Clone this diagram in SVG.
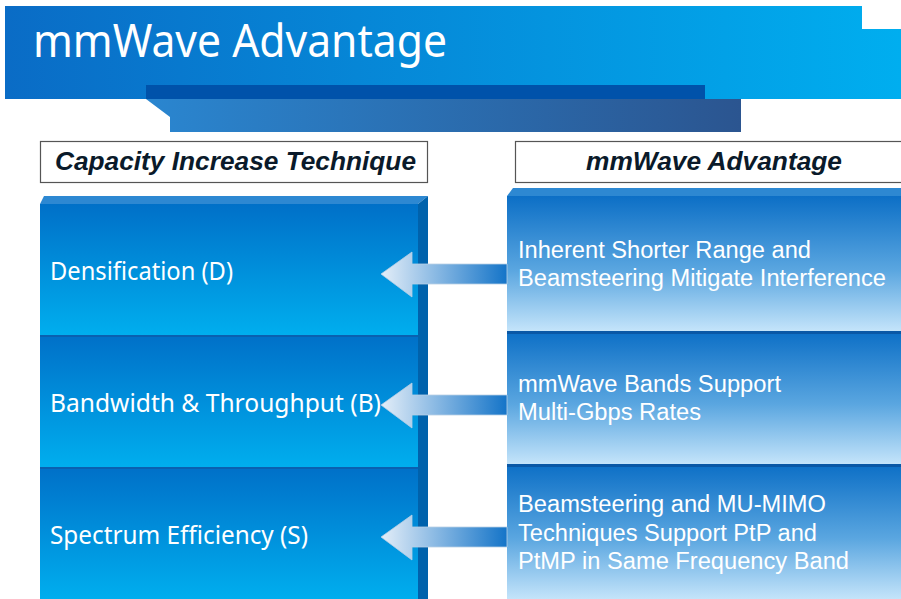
<svg xmlns="http://www.w3.org/2000/svg" width="901" height="599" viewBox="0 0 901 599">
<defs>
<linearGradient id="gTitle" x1="0" y1="0" x2="1" y2="0">
<stop offset="0" stop-color="#0a6cc6"/><stop offset="1" stop-color="#00aeef"/>
</linearGradient>
<linearGradient id="gBar" x1="0" y1="0" x2="1" y2="0">
<stop offset="0" stop-color="#2a86d0"/><stop offset="1" stop-color="#2b5590"/>
</linearGradient>
<linearGradient id="gLeft" x1="0" y1="0" x2="0" y2="1">
<stop offset="0" stop-color="#0070c8"/><stop offset="1" stop-color="#00aeee"/>
</linearGradient>
<linearGradient id="gRight" x1="0" y1="0" x2="0" y2="1">
<stop offset="0" stop-color="#0c6fc6"/><stop offset="0.55" stop-color="#5aa6e0"/><stop offset="1" stop-color="#c4e4fa"/>
</linearGradient>
<linearGradient id="gArrow" x1="0" y1="0" x2="1" y2="0">
<stop offset="0" stop-color="#e4eef8"/><stop offset="1" stop-color="#1474c8"/>
</linearGradient>
<style>
.hdr{fill:#fff;stroke:#555;stroke-width:1.2}
.hdrT{font-family:"Liberation Sans",Arial,sans-serif;font-weight:bold;font-style:italic;font-size:25px;fill:#0a1a2a}
.lt{font-family:"Noto Sans","Open Sans",sans-serif;font-size:25px;fill:#fff}
.rt{font-family:"Liberation Sans",Arial,sans-serif;font-size:23px;fill:#fff}
.side{fill:#0062ac}
.topL{fill:#2d88d2}
.sep{fill:#0a58a6}
</style>
</defs>

<g id="title">
<path d="M5 6 H862 V29 H901 V99 H5 Z" fill="url(#gTitle)"/>
<rect x="146" y="85" width="559" height="14" fill="#0052aa"/>
<path d="M146 99 H741 V132 H170 V117 Z" fill="url(#gBar)"/>
<text x="33" y="57" font-family="Noto Sans,Open Sans,sans-serif" font-size="45" fill="#fff" textLength="414" lengthAdjust="spacingAndGlyphs">mmWave Advantage</text>
</g>

<g id="hdr-left">
<rect class="hdr" x="40.5" y="141.5" width="387" height="41"/>
<text class="hdrT" x="55" y="170" textLength="361" lengthAdjust="spacingAndGlyphs">Capacity Increase Technique</text>
</g>
<g id="hdr-right">
<rect class="hdr" x="515.5" y="141.5" width="390" height="41"/>
<text class="hdrT" x="586" y="170" textLength="256" lengthAdjust="spacingAndGlyphs">mmWave Advantage</text>
</g>

<g id="left-col">
<path class="topL" d="M40 204 L44 196 H428 L418 204 Z"/>
<path class="side" d="M418 204 L428 196 V599 H418 Z"/>
</g>
<g id="node-D">
<rect x="40" y="204" width="378" height="131" fill="url(#gLeft)"/>
<text class="lt" x="50" y="280" textLength="183" lengthAdjust="spacingAndGlyphs">Densification (D)</text>
</g>
<g id="node-B">
<rect x="40" y="335" width="378" height="132" fill="url(#gLeft)"/>
<rect x="40" y="335" width="378" height="2" fill="#0a60b0"/>
<text class="lt" x="50" y="412" textLength="331" lengthAdjust="spacingAndGlyphs">Bandwidth &amp; Throughput (B)</text>
</g>
<g id="node-S">
<rect x="40" y="467" width="378" height="132" fill="url(#gLeft)"/>
<rect x="40" y="467" width="378" height="2" fill="#0a60b0"/>
<text class="lt" x="50" y="544" textLength="258" lengthAdjust="spacingAndGlyphs">Spectrum Efficiency (S)</text>
</g>

<g id="right-col">
<path class="topL" d="M507 196 L513 188 H901 V196 Z"/>
</g>
<g id="node-R1">
<rect x="507" y="196" width="394" height="135" fill="url(#gRight)"/>
<text class="rt" x="518" y="258" textLength="293" lengthAdjust="spacingAndGlyphs">Inherent Shorter Range and</text>
<text class="rt" x="518" y="286" textLength="368" lengthAdjust="spacingAndGlyphs">Beamsteering Mitigate Interference</text>
</g>
<g id="node-R2">
<rect x="507" y="331" width="394" height="133" fill="url(#gRight)"/>
<rect class="sep" x="507" y="331" width="394" height="3"/>
<text class="rt" x="518" y="392" textLength="263" lengthAdjust="spacingAndGlyphs">mmWave Bands Support</text>
<text class="rt" x="518" y="420" textLength="183" lengthAdjust="spacingAndGlyphs">Multi-Gbps Rates</text>
</g>
<g id="node-R3">
<rect x="507" y="464" width="394" height="135" fill="url(#gRight)"/>
<rect class="sep" x="507" y="464" width="394" height="3"/>
<text class="rt" x="518" y="512" textLength="308" lengthAdjust="spacingAndGlyphs">Beamsteering and MU-MIMO</text>
<text class="rt" x="518" y="541" textLength="299" lengthAdjust="spacingAndGlyphs">Techniques Support PtP and</text>
<text class="rt" x="518" y="569" textLength="331" lengthAdjust="spacingAndGlyphs">PtMP in Same Frequency Band</text>
</g>

<g id="connectors">
<path d="M507 264 H412 V252 L381 274 L412 297 V284 H507 Z" fill="url(#gArrow)" stroke="#b8cfe4" stroke-width="0.8"/>
<path d="M507 395 H412 V383 L381 405 L412 428 V415 H507 Z" fill="url(#gArrow)" stroke="#b8cfe4" stroke-width="0.8"/>
<path d="M507 527 H412 V515 L381 537 L412 560 V547 H507 Z" fill="url(#gArrow)" stroke="#b8cfe4" stroke-width="0.8"/>
</g>
</svg>
